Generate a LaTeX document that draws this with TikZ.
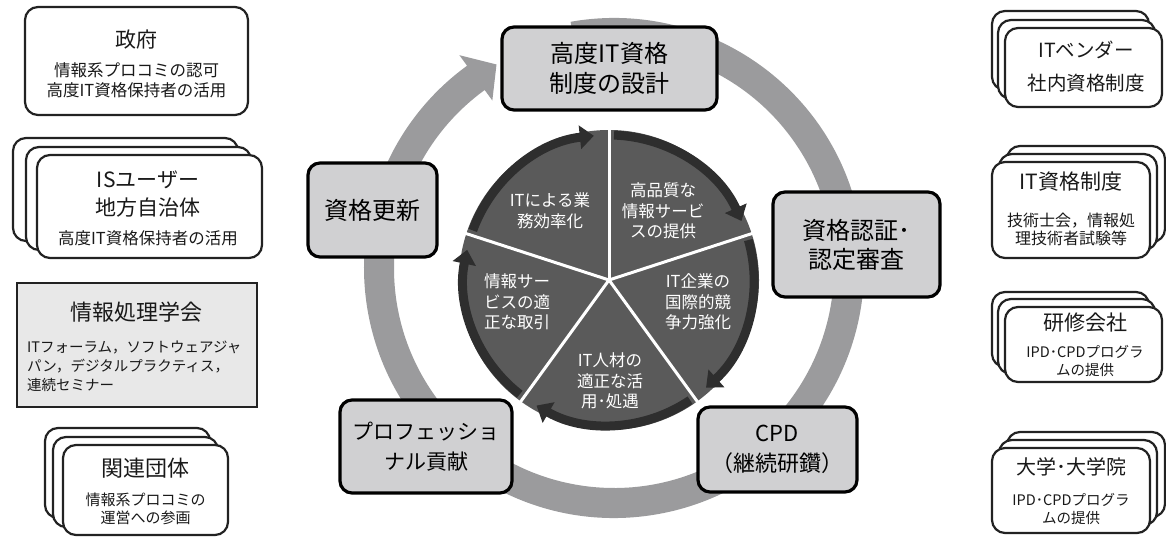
\documentclass[tikz,border=0pt]{standalone}
\usepackage{fontspec}
\setmainfont{Noto Sans CJK JP}
\usetikzlibrary{arrows.meta}
\definecolor{ringc}{HTML}{9B9B9D}
\definecolor{segc}{HTML}{5A5A5A}
\definecolor{rimc}{HTML}{2E2E2E}
\definecolor{cycfill}{HTML}{D0D0D2}
\definecolor{ipsjfill}{HTML}{E8E8E8}
\definecolor{edgec}{HTML}{222222}
\tikzset{
  fsz/.style 2 args={font=\fontsize{#1}{#2}\selectfont},
  sbox/.style={draw=edgec, line width=2.2pt, rounded corners=13pt, fill=white, inner sep=0pt},
  rbox/.style={draw=edgec, line width=2.4pt, fill=ipsjfill, inner sep=0pt},
  cbox/.style={draw=black, line width=3.2pt, rounded corners=12pt, fill=cycfill, align=center, inner sep=0pt},
  lbl/.style={align=center, inner sep=0pt, text=black!90},
  seglbl/.style={text=white, align=center, inner sep=0pt, font=\fontsize{16.5}{20.5}\selectfont},
  rimarrow/.style={draw=rimc, line width=9pt, -{Triangle[length=14pt,width=23pt]}},
}
\begin{document}
\begin{tikzpicture}[x=1pt,y=1pt]
\useasboundingbox (0,0) rectangle (1166,537);

% ---- big ring with arrow ----
\begin{scope}[shift={(614,269)}]
\fill[ringc] (100:250pt) arc[start angle=100, end angle=-234, radius=250pt]
  -- (-234:263pt) -- (-240:235pt) -- (-234:207pt) -- (-234:220pt)
  arc[start angle=-234, end angle=100, radius=220pt] -- cycle;
\end{scope}

% ---- pie ----
\begin{scope}[shift={(609,257)}]
\foreach \a in {90,18,-54,-126,-198}{
  \fill[segc] (0,0) -- (\a:150pt) arc[start angle=\a, end angle=\a-72, radius=150pt] -- cycle;
}
\foreach \a in {90,18,-54,-126,-198}{
  \draw[rimarrow] (\a-2:145pt) arc[start angle=\a-2, end angle=\a-66, radius=145pt];
}
\foreach \a in {90,18,-54,-126,-198}{
  \draw[white, line width=3pt] (0,0) -- (\a:158pt);
}
\end{scope}

\node[seglbl] (s1) at (550,326) {ITによる業\\務効率化};
\node[seglbl] (s2) at (663,326) {高品質な\\情報サービ\\スの提供};
\node[seglbl] (s3) at (698,235) {IT企業の\\国際的競\\争力強化};
\node[seglbl] (s4) at (610,156) {IT人材の\\適正な活\\用･処遇};
\node[seglbl] (s5) at (517,235) {情報サー\\ビスの適\\正な取引};

% ---- cycle boxes ----
\node[cbox, minimum width=215pt, minimum height=83pt, fsz={24}{30}] (design) at (609.5,468.5) {高度IT資格\\制度の設計};
\node[cbox, minimum width=167pt, minimum height=105pt, fsz={24}{29}] (auth) at (856.5,292.5) {資格認証･\\認定審査};
\node[cbox, minimum width=159pt, minimum height=85pt, fsz={22}{30}] (cpd) at (777.5,87.5) {CPD\\（継続研鑽）};
\node[cbox, minimum width=172pt, minimum height=93pt, fsz={21}{30}] (pro) at (426,90.5) {プロフェッショ\\ナル貢献};
\node[cbox, minimum width=129pt, minimum height=94pt, fsz={24}{30}] (renew) at (372.5,327) {資格更新};

% ---- left column ----
\node[sbox, minimum width=223pt, minimum height=108pt] (gov) at (136.5,476) {};
\node[lbl, fsz={21}{26}] (govt) at (136.5,497) {政府};
\node[lbl, fsz={16.5}{20}] (govs) at (136.5,457) {情報系プロコミの認可\\高度IT資格保持者の活用};

\node[sbox, minimum width=225pt, minimum height=103pt] (isub2) at (125.5,347.5) {};
\node[sbox, minimum width=225pt, minimum height=103pt] (isub1) at (138.5,338.5) {};
\node[sbox, minimum width=225pt, minimum height=103pt] (isu) at (149.5,330.5) {};
\node[lbl, fsz={21}{28}] (isut) at (148,343) {ISユーザー\\地方自治体};
\node[lbl, fsz={16.5}{20}] (isus) at (148,299) {高度IT資格保持者の活用};

\node[rbox, minimum width=240pt, minimum height=124pt] (ipsj) at (137,192) {};
\node[lbl, fsz={22}{26}] (ipsjt) at (136,225) {情報処理学会};
\node[lbl, align=left, anchor=west, fsz={14.5}{19}] (ipsjs) at (27,171) {ITフォーラム，ソフトウェアジャ\\パン，デジタルプラクティス，\\連続セミナー};

\node[sbox, minimum width=165pt, minimum height=90pt] (kanb2) at (127.5,64) {};
\node[sbox, minimum width=165pt, minimum height=90pt] (kanb1) at (135.5,55) {};
\node[sbox, minimum width=165pt, minimum height=90pt] (kan) at (145.5,47) {};
\node[lbl, fsz={22}{26}] (kant) at (145.5,69) {関連団体};
\node[lbl, fsz={15}{18}] (kans) at (145.5,28) {情報系プロコミの\\運営への参画};

% ---- right column ----
\node[sbox, minimum width=157pt, minimum height=79pt] (venb2) at (1070.5,486.5) {};
\node[sbox, minimum width=157pt, minimum height=79pt] (venb1) at (1076.5,477.5) {};
\node[sbox, minimum width=157pt, minimum height=79pt] (ven) at (1083.5,469.5) {};
\node[lbl, fsz={19.5}{33}] (vent) at (1086,470.5) {ITベンダー\\社内資格制度};

\node[sbox, minimum width=158pt, minimum height=96pt] (itqb2) at (1086,343) {};
\node[sbox, minimum width=158pt, minimum height=96pt] (itqb1) at (1078,335) {};
\node[sbox, minimum width=158pt, minimum height=96pt] (itq) at (1071,327) {};
\node[lbl, fsz={21}{26}] (itqt) at (1071,355) {IT資格制度};
\node[lbl, fsz={16}{18}] (itqs) at (1071,308) {技術士会，情報処\\理技術者試験等};

\node[sbox, minimum width=157pt, minimum height=75pt] (kenb2) at (1070.5,207.5) {};
\node[sbox, minimum width=157pt, minimum height=75pt] (kenb1) at (1076.5,200.5) {};
\node[sbox, minimum width=157pt, minimum height=75pt] (ken) at (1083.5,192.5) {};
\node[lbl, fsz={21}{26}] (kent) at (1085,214) {研修会社};
\node[lbl, fsz={14.5}{18}] (kens) at (1085,176) {IPD･CPDプログラ\\ムの提供};

\node[sbox, minimum width=158pt, minimum height=85pt] (unib2) at (1086,62.5) {};
\node[sbox, minimum width=158pt, minimum height=85pt] (unib1) at (1078,54.5) {};
\node[sbox, minimum width=158pt, minimum height=85pt] (uni) at (1071,46.5) {};
\node[lbl, fsz={20}{26}] (unit) at (1071,70) {大学･大学院};
\node[lbl, fsz={14.5}{18}] (unis) at (1071,28) {IPD･CPDプログラ\\ムの提供};
\end{tikzpicture}
\end{document}
